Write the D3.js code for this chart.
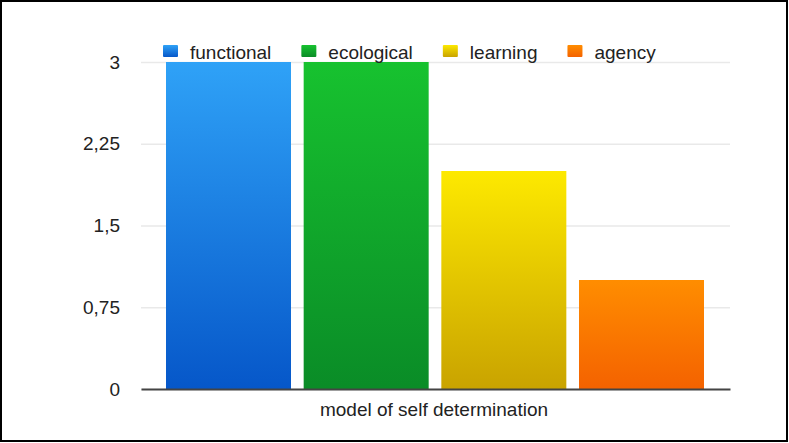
<!DOCTYPE html>
<html><head><meta charset="utf-8">
<script src="https://cdn.jsdelivr.net/npm/d3@7"></script>
<style>html,body{margin:0;padding:0;background:#fff;}svg{display:block;}</style>
</head><body>
<svg id="c" width="789" height="443"></svg>
<script>
const categories = ["functional", "ecological", "learning", "agency"];
const values = [3, 3, 2, 1];
const tickValues = [0, 0.75, 1.5, 2.25, 3];
const tickLabels = ["0", "0,75", "1,5", "2,25", "3"];
const xTitle = "model of self determination";
const colorsTop = ["#2fa2f7", "#17c22f", "#fde900", "#ff8d00"];
const colorsBottom = ["#0657c9", "#0a8c27", "#c9a300", "#f46200"];

const FONT = "Liberation Sans, Arial, sans-serif";
const svg = d3.select("#c");
const W = 789, H = 443;
const m = {left: 141, right: 59, top: 62, bottom: 54};
const pw = W - m.left - m.right, ph = H - m.top - m.bottom;

svg.append("rect").attr("x", 1).attr("y", 1).attr("width", W - 3).attr("height", H - 3)
  .attr("fill", "#fff").attr("stroke", "#000").attr("stroke-width", 2);

const defs = svg.append("defs");
categories.forEach((c, i) => {
  const g = defs.append("linearGradient").attr("id", "g" + i)
    .attr("x1", 0).attr("y1", 0).attr("x2", 0).attr("y2", 1);
  g.append("stop").attr("offset", "0%").attr("stop-color", colorsTop[i]);
  g.append("stop").attr("offset", "100%").attr("stop-color", colorsBottom[i]);
});

const x = d3.scaleBand().domain(categories).range([m.left + 25, m.left + pw - 26]).paddingInner(0.092).paddingOuter(0);
const y = d3.scaleLinear().domain([0, 3]).range([m.top + ph, m.top]);

const gy = svg.append("g").attr("transform", `translate(${m.left},0)`)
  .call(d3.axisLeft(y).tickValues(tickValues).tickSize(-pw).tickFormat((d, i) => tickLabels[i]).tickPadding(21));
gy.select(".domain").remove();
gy.selectAll(".tick line").attr("stroke", "#e9e9e9").attr("stroke-width", 1.5);
gy.selectAll(".tick text").attr("font-family", FONT).attr("font-size", 19).attr("fill", "#222");

svg.append("g").selectAll("rect").data(values).join("rect")
  .attr("x", (d, i) => x(categories[i]))
  .attr("y", d => y(d))
  .attr("width", x.bandwidth())
  .attr("height", d => y(0) - y(d))
  .attr("fill", (d, i) => `url(#g${i})`);

const gx = svg.append("g").attr("transform", `translate(0,${y(0)})`)
  .call(d3.axisBottom(d3.scaleLinear().range([m.left, m.left + pw])).ticks(0).tickSize(0));
gx.select(".domain").attr("stroke", "#444").attr("stroke-width", 2);
gx.selectAll("text").remove();

svg.append("text").attr("x", 434).attr("y", 416).attr("text-anchor", "middle")
  .attr("font-family", FONT).attr("font-size", 19).attr("fill", "#222")
  .text(xTitle);

// legend laid out sequentially
const leg = svg.append("g");
let lx = 163;
categories.forEach((c, i) => {
  const g = leg.append("g").attr("transform", `translate(${lx},0)`);
  g.append("rect").attr("x", 0).attr("y", 45).attr("width", 15).attr("height", 12).attr("rx", 1)
    .attr("fill", `url(#g${i})`);
  const t = g.append("text").attr("x", 27).attr("y", 59)
    .attr("font-family", FONT).attr("font-size", 19).attr("fill", "#222").text(c);
  lx += 27 + t.node().getComputedTextLength() + 30;
});
</script>
</body></html>
